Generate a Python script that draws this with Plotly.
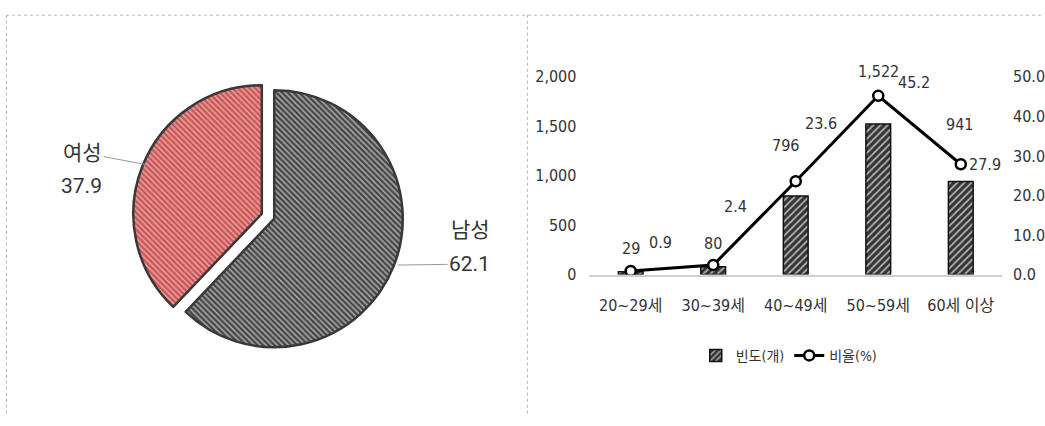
import plotly.graph_objects as go

# ---------------- data ----------------
gender_labels = ["남성", "여성"]
gender_values = [62.1, 37.9]

age_groups = ["20~29세", "30~39세", "40~49세", "50~59세", "60세 이상"]
freq_values = [29, 80, 796, 1522, 941]
ratio_values = [0.9, 2.4, 23.6, 45.2, 27.9]

left_tick_values = [0, 500, 1000, 1500, 2000]
right_tick_values = [0, 10, 20, 30, 40, 50]

# ---------------- styling / layout helpers ----------------
W, H = 1045, 426
NARROW = "DejaVu Sans Condensed, Liberation Sans Narrow, Noto Sans CJK KR, sans-serif"
PIEFONT = "Roboto, Noto Sans CJK KR, sans-serif"

def px_x(p):
    return p / W

def px_y(p):
    return 1 - p / H

fig = go.Figure()

# ---------------- pie ----------------
fig.add_trace(go.Pie(
    labels=gender_labels,
    values=gender_values,
    sort=False,
    direction="clockwise",
    rotation=0,
    pull=[0, 0.104],
    textinfo="none",
    showlegend=False,
    marker=dict(
        colors=["#454545", "#c85555"],
        line=dict(color="#383838", width=2.5),
        pattern=dict(
            shape=["\\", "\\"],
            fgcolor=["#a8a8a8", "#eba0a0"],
            bgcolor=["#454545", "#c85555"],
            fillmode="replace",
            size=4,
            solidity=0.4,
        ),
    ),
    domain=dict(x=[px_x(126), px_x(423)], y=[px_y(368), px_y(71)]),
))

# ---------------- bar + line ----------------
fig.add_trace(go.Bar(
    x=age_groups,
    y=freq_values,
    name="빈도(개)",
    width=0.3,
    marker=dict(
        color="#333333",
        line=dict(color="#111111", width=1.5),
        pattern=dict(shape="/", fgcolor="#b0b0b0", bgcolor="#333333",
                     fillmode="replace", size=5, solidity=0.35),
    ),
    xaxis="x", yaxis="y",
))
fig.add_trace(go.Scatter(
    x=age_groups,
    y=ratio_values,
    name="비율(%)",
    mode="lines+markers",
    line=dict(color="#000000", width=3),
    marker=dict(symbol="circle", size=10, color="#ffffff",
                line=dict(color="#000000", width=2.5)),
    xaxis="x", yaxis="y2",
))

annotations = []

# pie labels
pie_font = dict(family=PIEFONT, size=21, color="#333333")
annotations.append(dict(xref="paper", yref="paper", x=px_x(147), y=px_y(163),
                        xanchor="center", yanchor="middle",
                        text=gender_labels[1], showarrow=True, arrowhead=0,
                        arrowwidth=1, arrowcolor="#9a9a9a", ax=83 - 147, ay=151 - 163,
                        font=pie_font))
annotations.append(dict(xref="paper", yref="paper", x=px_x(82), y=px_y(185.5),
                        xanchor="center", yanchor="middle",
                        text=f"{gender_values[1]:.1f}", showarrow=False, font=pie_font))
annotations.append(dict(xref="paper", yref="paper", x=px_x(471), y=px_y(231),
                        xanchor="center", yanchor="middle",
                        text=gender_labels[0], showarrow=False, font=pie_font))
annotations.append(dict(xref="paper", yref="paper", x=px_x(398), y=px_y(268),
                        xanchor="center", yanchor="middle",
                        text=f"{gender_values[0]:.1f}", showarrow=True, arrowhead=0,
                        arrowwidth=1, arrowcolor="#9a9a9a", ax=470 - 398, ay=267 - 268,
                        font=pie_font))

# data labels (offsets in pixels)
freq_label_dx = [0, 0, -10, 0, -1]
freq_label_dy = [23, 23, 50, 53, 57]
ratio_label_dx = [30, 22, 25, 36, 24]
ratio_label_dy = [29, 59, 58, 13, 0]

lab_font = dict(family=NARROW, size=16, color="#333333")
for i, g in enumerate(age_groups):
    annotations.append(dict(xref="x", yref="y", x=g, y=freq_values[i],
                            text=f"{freq_values[i]:,}", showarrow=False,
                            xshift=freq_label_dx[i], yshift=freq_label_dy[i],
                            font=lab_font))
    annotations.append(dict(xref="x", yref="y2", x=g, y=ratio_values[i],
                            text=f"{ratio_values[i]:.1f}", showarrow=False,
                            xshift=ratio_label_dx[i], yshift=ratio_label_dy[i],
                            font=lab_font))

# panel borders (dotted)
shapes = [
    dict(type="line", xref="paper", yref="paper", x0=px_x(6), x1=1, y0=px_y(6.5), y1=px_y(6.5),
         line=dict(color="#b8b8b8", width=1, dash="dot")),
    dict(type="line", xref="paper", yref="paper", x0=px_x(6.5), x1=px_x(6.5), y0=px_y(6), y1=0,
         line=dict(color="#b8b8b8", width=1, dash="dot")),
    dict(type="line", xref="paper", yref="paper", x0=px_x(528), x1=px_x(528), y0=px_y(6), y1=0,
         line=dict(color="#b8b8b8", width=1, dash="dot")),
]

tick_font = dict(family=NARROW, size=16, color="#333333")
fig.update_layout(
    width=W, height=H,
    margin=dict(l=0, r=0, t=0, b=0),
    paper_bgcolor="#ffffff",
    plot_bgcolor="rgba(0,0,0,0)",
    font=dict(family=NARROW, color="#333333"),
    annotations=annotations,
    shapes=shapes,
    xaxis=dict(domain=[px_x(590), px_x(1003)], range=[-0.5, 4.5],
               showline=True, linecolor="#d0d0d0", linewidth=1.5,
               showgrid=False, zeroline=False, ticks="",
               tickfont=tick_font, ticklabelstandoff=15),
    yaxis=dict(domain=[px_y(278), px_y(71)], range=[0, 2000],
               tickvals=left_tick_values, tickformat=",",
               showgrid=False, zeroline=False, showline=False, ticks="",
               tickfont=tick_font, ticklabelstandoff=12),
    yaxis2=dict(domain=[px_y(278), px_y(71)], range=[0, 50], overlaying="y", side="right",
                tickvals=right_tick_values, tickformat=".1f",
                showgrid=False, zeroline=False, showline=False, ticks="",
                tickfont=tick_font, ticklabelstandoff=10),
    legend=dict(orientation="h", x=px_x(790), xanchor="center", y=px_y(363), yanchor="middle",
                font=dict(family=NARROW, size=14, color="#333333"),
                bgcolor="rgba(0,0,0,0)", itemwidth=30, tracegroupgap=0),
)

fig.write_html("out.html", config={"displayModeBar": False},
               post_script="document.body.style.margin='0';document.body.style.overflow='hidden';")
